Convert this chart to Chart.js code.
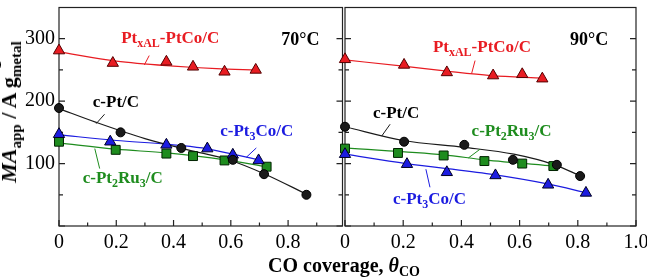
<!DOCTYPE html>
<html><head><meta charset="utf-8">
<script src="https://cdn.jsdelivr.net/npm/chart.js@4"></script>
<style>
html,body{margin:0;padding:0;background:#fff;}
#wrap{position:relative;width:647px;height:277px;overflow:hidden;font-family:"Liberation Serif","Times New Roman",serif;color:#000;}
canvas{position:absolute;top:0;}
#xlab{position:absolute;left:268px;top:255px;font-size:20px;font-weight:bold;line-height:20px;white-space:nowrap;}
#xlab .sb{position:relative;top:4px;font-size:14px;}
#ylab{position:absolute;left:10px;top:112px;transform:translate(-50%,-50%) rotate(-90deg);white-space:nowrap;font-size:22px;font-weight:bold;line-height:22px;}
#ylab .sb{position:relative;top:5px;font-size:15px;}
#ylab .ss{position:relative;display:inline-block;font-size:15px;line-height:15px;}
#ylab .ss .sb2{position:relative;top:5px;}
#ylab .ss .sp2{position:absolute;left:0;top:-15px;}
</style></head>
<body>
<div id="wrap">
<canvas id="c1" width="350" height="277" style="left:0;width:350px;height:277px"></canvas>
<canvas id="c2" width="347" height="277" style="left:300px;width:347px;height:277px"></canvas>
<div id="ylab"><i>MA</i><span class="sb">app</span> / A g<span class="ss"><span class="sb2">metal</span><span class="sp2">−1</span></span></div>
<div id="xlab">CO coverage, <i>θ</i><span class="sb">CO</span></div>
</div>
<script>
// ---------- tick labels ----------
const yTickLabels = [100, 200, 300];
const xTickLabelsLeft = [0, 0.2, 0.4, 0.6, 0.8];
const xTickLabelsRight = [0, 0.2, 0.4, 0.6, 0.8, 1.0];

// ---------- 70 °C measured points ----------
const theta70PtxAL = [0, 0.188, 0.375, 0.468, 0.578, 0.687];
const ma70PtxAL    = [281, 261, 263, 255, 247, 250];
const theta70Pt    = [0, 0.215, 0.427, 0.607, 0.716, 0.864];
const ma70Pt       = [189, 150, 125, 106, 83, 50];
const theta70Pt3Co = [0, 0.179, 0.375, 0.518, 0.607, 0.697];
const ma70Pt3Co    = [147, 135, 130, 124, 114, 105];
const theta70Pt2Ru3= [0, 0.198, 0.375, 0.468, 0.578, 0.725];
const ma70Pt2Ru3   = [135, 122, 116, 112, 105, 95];

// ---------- 70 °C fitted curves ----------
const fitTheta70PtxAL = [0, 0.2, 0.4, 0.55, 0.69];
const fitMa70PtxAL    = [279, 264, 256, 252, 250];
const fitTheta70Pt    = [0, 0.13, 0.3, 0.45, 0.6, 0.72, 0.864];
const fitMa70Pt       = [188, 166, 140, 122, 105, 83, 51];
const fitTheta70Pt3Co = [0, 0.2, 0.375, 0.5, 0.607, 0.697];
const fitMa70Pt3Co    = [146, 137, 131, 125, 115, 106];
const fitTheta70Pt2Ru3= [0, 0.2, 0.375, 0.58, 0.725];
const fitMa70Pt2Ru3   = [133, 123, 117, 106, 95];

// ---------- 90 °C measured points ----------
const theta90PtxAL = [0, 0.203, 0.35, 0.509, 0.609, 0.678];
const ma90PtxAL    = [267, 258, 246, 241, 243, 236];
const theta90Pt    = [0, 0.203, 0.41, 0.577, 0.728, 0.808];
const ma90Pt       = [159, 135, 130, 106, 98, 80];
const theta90Pt3Co = [0, 0.213, 0.35, 0.517, 0.698, 0.828];
const ma90Pt3Co    = [115, 99, 86, 81, 66, 53];
const theta90Pt2Ru3= [0, 0.182, 0.339, 0.479, 0.609, 0.716];
const ma90Pt2Ru3   = [124, 117, 113, 104, 100, 96];

// ---------- 90 °C fitted curves ----------
const fitTheta90PtxAL = [0, 0.2, 0.35, 0.5, 0.68];
const fitMa90PtxAL    = [266, 256, 248, 241, 237];
const fitTheta90Pt    = [0, 0.2, 0.41, 0.58, 0.72, 0.81];
const fitMa90Pt       = [159, 137, 126, 115, 98, 80];
const fitTheta90Pt3Co = [0, 0.21, 0.5, 0.7, 0.83];
const fitMa90Pt3Co    = [115, 100, 83, 67, 53];
const fitTheta90Pt2Ru3= [0, 0.34, 0.48, 0.72];
const fitMa90Pt2Ru3   = [125, 114, 106, 96];

// ---------- styling ----------
const RED = '#e81c22', BLACK = '#1a1a1a', BLUE = '#1c1ce0', GREEN = '#1e8c1e';
const FONT = '"Liberation Serif","Times New Roman",serif';

const zip = (xs, ys) => xs.map((v, i) => ({x: v, y: ys[i]}));
function fitDs(xs, ys, color) {
  return {type: 'line', data: zip(xs, ys), borderColor: color, borderWidth: 1.2, pointRadius: 0,
          fill: false, cubicInterpolationMode: 'monotone', clip: false, order: 2};
}
function markDs(xs, ys, style, fill, border, r) {
  return {type: 'scatter', data: zip(xs, ys), showLine: false, pointStyle: style, pointRadius: r,
          pointHoverRadius: r, backgroundColor: fill, borderColor: border, borderWidth: 1, clip: false, order: 1};
}

function drawRich(ctx, x, y, parts, color, size) {
  ctx.save();
  ctx.fillStyle = color; ctx.textBaseline = 'alphabetic'; ctx.textAlign = 'left';
  let cx = x;
  for (const p of parts) {
    const s = p.sub ? Math.round(size * 0.72) : size;
    ctx.font = 'bold ' + s + 'px ' + FONT;
    ctx.fillText(p.t, cx, y + (p.sub ? size * 0.25 : 0));
    cx += ctx.measureText(p.t).width;
  }
  ctx.restore();
}

const framePlugin = {
  id: 'frame',
  beforeDatasetsDraw(chart) {
    const {ctx, chartArea: a, scales: {x, y}} = chart;
    ctx.save();
    ctx.strokeStyle = '#222'; ctx.lineWidth = 1.2;
    ctx.strokeRect(a.left, a.top, a.right - a.left, a.bottom - a.top);
    ctx.beginPath();
    for (let i = 0; i <= 10; i++) {
      const v = i / 10;
      if (v > x.max + 1e-9) break;
      const px = x.getPixelForValue(v);
      const len = (i % 2 === 0) ? 6 : 3.5;
      ctx.moveTo(px, a.bottom); ctx.lineTo(px, a.bottom - len);
    }
    for (let v = 0; v <= y.max; v += 50) {
      const py = y.getPixelForValue(v);
      const len = (v % 100 === 0) ? 6 : 4;
      ctx.moveTo(a.left, py); ctx.lineTo(a.left + len, py);
      ctx.moveTo(a.right, py); ctx.lineTo(a.right - len, py);
    }
    ctx.stroke();
    ctx.restore();
  },
  afterDatasetsDraw(chart) {
    const o = chart.options.plugins.notes;
    if (!o) return;
    const {ctx, scales: {x, y}} = chart;
    ctx.save();
    ctx.lineWidth = 1;
    for (const l of o.leaders) {
      ctx.strokeStyle = l.color;
      ctx.beginPath();
      ctx.moveTo(x.getPixelForValue(l.x1), y.getPixelForValue(l.y1));
      ctx.lineTo(x.getPixelForValue(l.x2), y.getPixelForValue(l.y2));
      ctx.stroke();
    }
    ctx.restore();
    for (const t of o.labels) {
      drawRich(ctx, x.getPixelForValue(t.x), y.getPixelForValue(t.y), t.parts, t.color, t.size || 17);
    }
  }
};

const PtxAL = [{t: 'Pt'}, {t: 'xAL', sub: true}, {t: '-PtCo/C'}];
const cPt = [{t: 'c-Pt/C'}];
const cPt3Co = [{t: 'c-Pt'}, {t: '3', sub: true}, {t: 'Co/C'}];
const cPt2Ru3 = [{t: 'c-Pt'}, {t: '2', sub: true}, {t: 'Ru'}, {t: '3', sub: true}, {t: '/C'}];

function makeChart(id, xmax, xLabels, showY, padding, datasets, notes) {
  return new Chart(document.getElementById(id), {
    type: 'scatter',
    data: {datasets},
    plugins: [framePlugin],
    options: {
      responsive: false, animation: false, events: [],
      layout: {padding},
      plugins: {legend: {display: false}, tooltip: {enabled: false}, notes},
      scales: {
        x: {
          type: 'linear', min: 0, max: xmax,
          grid: {display: false, drawTicks: false}, border: {display: false},
          afterBuildTicks: s => { s.ticks = xLabels.map(v => ({value: v})); },
          afterFit: s => { s.height = 51; s.paddingLeft = 0; s.paddingRight = 0; },
          ticks: {
            autoSkip: false, maxRotation: 0, padding: 5, color: '#000',
            font: {family: FONT, size: 20},
            callback: v => (Math.abs(v) < 1e-9 ? '0' : Number(v).toFixed(1))
          }
        },
        y: {
          type: 'linear', min: 0, max: 350, display: showY,
          grid: {display: false, drawTicks: false}, border: {display: false},
          afterBuildTicks: s => { s.ticks = yTickLabels.map(v => ({value: v})); },
          afterFit: s => { s.width = showY ? 59 : 0; s.paddingTop = 0; s.paddingBottom = 0; },
          ticks: {padding: 4, color: '#000', font: {family: FONT, size: 20}, callback: v => String(v)}
        }
      }
    }
  });
}

makeChart('c1', 0.99, xTickLabelsLeft, true, {left: 0, right: 5, top: 5, bottom: 0}, [
  markDs(theta70PtxAL, ma70PtxAL, 'triangle', RED, '#500', 6.5),
  markDs(theta70Pt, ma70Pt, 'circle', BLACK, '#000', 4.5),
  markDs(theta70Pt3Co, ma70Pt3Co, 'triangle', BLUE, '#002', 6.5),
  markDs(theta70Pt2Ru3, ma70Pt2Ru3, 'rect', GREEN, '#020', 6.3),
  fitDs(fitTheta70PtxAL, fitMa70PtxAL, RED),
  fitDs(fitTheta70Pt, fitMa70Pt, BLACK),
  fitDs(fitTheta70Pt3Co, fitMa70Pt3Co, BLUE),
  fitDs(fitTheta70Pt2Ru3, fitMa70Pt2Ru3, GREEN)
], {
  labels: [
    {parts: PtxAL, color: RED, x: 0.217, y: 293},
    {parts: [{t: '70°C'}], color: '#000', x: 0.776, y: 290, size: 18},
    {parts: cPt, color: '#000', x: 0.118, y: 190},
    {parts: cPt3Co, color: BLUE, x: 0.563, y: 144},
    {parts: cPt2Ru3, color: GREEN, x: 0.083, y: 69}
  ],
  leaders: [
    {x1: 0.315, y1: 273, x2: 0.298, y2: 258, color: RED},
    {x1: 0.159, y1: 179, x2: 0.130, y2: 164, color: BLACK},
    {x1: 0.689, y1: 125, x2: 0.654, y2: 110, color: BLUE},
    {x1: 0.142, y1: 92, x2: 0.125, y2: 124, color: GREEN}
  ]
});

makeChart('c2', 1.0, xTickLabelsRight, false, {left: 45, right: 11, top: 5, bottom: 0}, [
  markDs(theta90PtxAL, ma90PtxAL, 'triangle', RED, '#500', 6.5),
  markDs(theta90Pt, ma90Pt, 'circle', BLACK, '#000', 4.5),
  markDs(theta90Pt3Co, ma90Pt3Co, 'triangle', BLUE, '#002', 6.5),
  markDs(theta90Pt2Ru3, ma90Pt2Ru3, 'rect', GREEN, '#020', 6.3),
  fitDs(fitTheta90PtxAL, fitMa90PtxAL, RED),
  fitDs(fitTheta90Pt, fitMa90Pt, BLACK),
  fitDs(fitTheta90Pt3Co, fitMa90Pt3Co, BLUE),
  fitDs(fitTheta90Pt2Ru3, fitMa90Pt2Ru3, GREEN)
], {
  labels: [
    {parts: PtxAL, color: RED, x: 0.302, y: 279},
    {parts: [{t: '90°C'}], color: '#000', x: 0.773, y: 290, size: 18},
    {parts: cPt, color: '#000', x: 0.096, y: 173},
    {parts: cPt2Ru3, color: GREEN, x: 0.435, y: 144},
    {parts: cPt3Co, color: BLUE, x: 0.165, y: 36}
  ],
  leaders: [
    {x1: 0.447, y1: 265, x2: 0.435, y2: 244, color: RED},
    {x1: 0.155, y1: 163, x2: 0.126, y2: 144, color: BLACK},
    {x1: 0.464, y1: 123, x2: 0.424, y2: 109, color: GREEN},
    {x1: 0.292, y1: 62, x2: 0.278, y2: 91, color: BLUE}
  ]
});
</script>
</body></html>
